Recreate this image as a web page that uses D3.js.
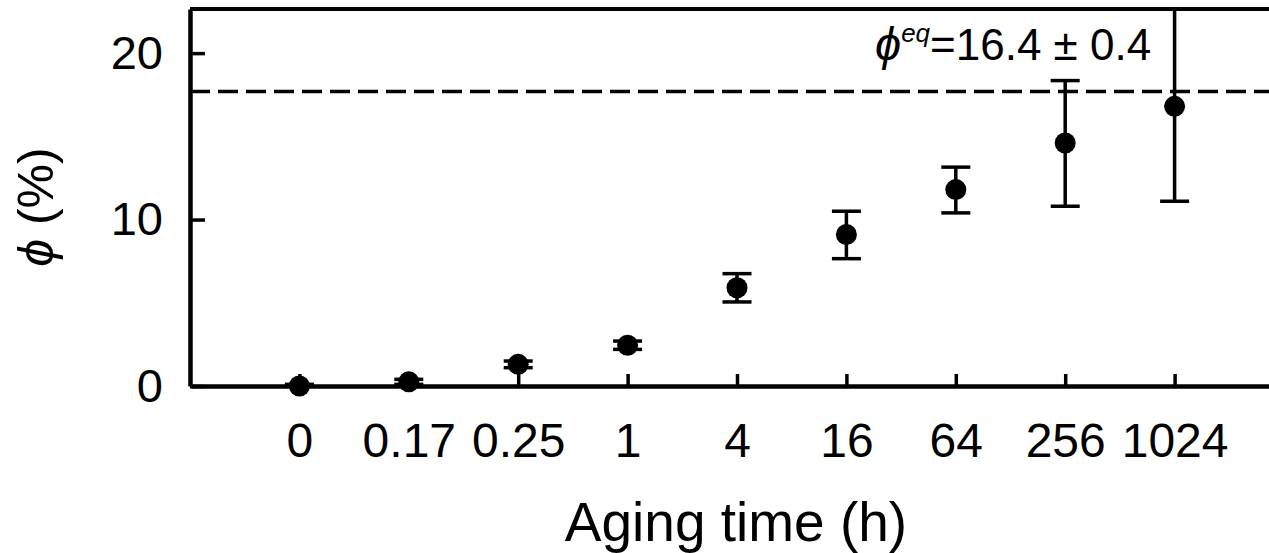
<!DOCTYPE html>
<html>
<head>
<meta charset="utf-8">
<script src="https://cdn.jsdelivr.net/npm/d3@7"></script>
<style>
  body { margin: 0; background: #fff; }
  svg { display: block; font-family: "Liberation Sans", Arial, "DejaVu Sans", sans-serif; }
</style>
</head>
<body>
<script>
// aging time categories (h) and measured phi (%)
var categories = ["0", "0.17", "0.25", "1", "4", "16", "64", "256", "1024"];
var phiMean = [0, 0.25, 1.3, 2.45, 5.9, 9.1, 11.8, 14.6, 16.8];
var errLow = [0.1, 0.15, 0.2, 0.25, 0.85, 1.45, 1.4, 3.8, 5.7];
var errHigh = [0.1, 0.15, 0.2, 0.25, 0.85, 1.4, 1.35, 3.75, 6.5];
var yTicks = [0, 10, 20];
var phiEq = 17.7;
var eqLabel = "=16.4 \u00b1 0.4";

var margin = {top: 9, right: 0, bottom: 167, left: 190},
  fullWidth = 1269,
  fullHeight = 553,
  width = 1094,
  height = fullHeight - margin.top - margin.bottom;

var x = d3.scalePoint().domain(categories).range([0, width]).padding(1);
var y = d3.scaleLinear().domain([0, 22.65]).range([height, 0]);

var svg = d3.select("body").append("svg")
  .attr("width", fullWidth)
  .attr("height", fullHeight);

var g = svg.append("g")
  .attr("transform", "translate(" + margin.left + "," + margin.top + ")");

g.append("defs").append("clipPath").attr("id", "plotclip")
  .append("rect").attr("x", 0).attr("y", 1).attr("width", width).attr("height", height);

var data = categories.map(function (c, i) {
  return {cat: c, v: phiMean[i], lo: phiMean[i] - errLow[i], hi: phiMean[i] + errHigh[i]};
});

// top frame line
g.append("line")
  .attr("x1", 0).attr("x2", width)
  .attr("y1", 0).attr("y2", 0)
  .attr("stroke", "#000").attr("stroke-width", 4);

// axes
var xAxis = d3.axisBottom(x).tickSizeInner(-12).tickSizeOuter(0).tickPadding(37);
var yAxis = d3.axisLeft(y).tickValues(yTicks).tickSizeInner(-15).tickSizeOuter(0).tickPadding(27);

var gx = g.append("g")
  .attr("transform", "translate(0," + height + ")")
  .call(xAxis);
gx.select(".domain").attr("stroke-width", 4.5);
gx.selectAll(".tick line").attr("stroke-width", 3.5);
gx.selectAll(".tick text").attr("font-size", 48).attr("fill", "#000")
  .attr("font-family", "Liberation Sans, Arial, sans-serif");

var gy = g.append("g").call(yAxis);
gy.select(".domain").attr("stroke-width", 4.5);
gy.selectAll(".tick line").attr("stroke-width", 3.5);
gy.selectAll(".tick text").attr("font-size", 47).attr("fill", "#000")
  .attr("font-family", "Liberation Sans, Arial, sans-serif");

// equilibrium dashed line
g.append("line")
  .attr("x1", 0).attr("x2", width)
  .attr("y1", y(phiEq)).attr("y2", y(phiEq))
  .attr("stroke", "#000").attr("stroke-width", 3.5)
  .attr("stroke-dasharray", "20,8");

var plot = g.append("g").attr("clip-path", "url(#plotclip)");

// error bars
var cap = 14.5;
var eb = plot.selectAll(".eb").data(data).enter().append("g").attr("class", "eb")
  .attr("stroke", "#000").attr("stroke-width", 3.5);
eb.append("line")
  .attr("x1", function (d) { return x(d.cat); })
  .attr("x2", function (d) { return x(d.cat); })
  .attr("y1", function (d) { return y(d.lo); })
  .attr("y2", function (d) { return y(d.hi); });
eb.append("line")
  .attr("x1", function (d) { return x(d.cat) - cap; })
  .attr("x2", function (d) { return x(d.cat) + cap; })
  .attr("y1", function (d) { return y(d.lo); })
  .attr("y2", function (d) { return y(d.lo); });
eb.append("line")
  .attr("x1", function (d) { return x(d.cat) - cap; })
  .attr("x2", function (d) { return x(d.cat) + cap; })
  .attr("y1", function (d) { return y(d.hi); })
  .attr("y2", function (d) { return y(d.hi); });

// points
g.selectAll("circle").data(data).enter().append("circle")
  .attr("cx", function (d) { return x(d.cat); })
  .attr("cy", function (d) { return y(d.v); })
  .attr("r", 10.5)
  .attr("fill", "#000");

// annotation
var ann = g.append("text")
  .attr("x", 875 - margin.left)
  .attr("y", 60 - margin.top)
  .attr("font-size", 44)
  .attr("fill", "#000");
ann.append("tspan").attr("font-style", "italic").attr("font-size", 47).text("\u03d5");
ann.append("tspan").attr("font-style", "italic").attr("font-size", 26)
  .attr("dy", -18).text("eq");
ann.append("tspan").attr("dy", 18).text(eqLabel);

// axis titles
svg.append("text")
  .attr("x", 736)
  .attr("y", 541)
  .attr("text-anchor", "middle")
  .attr("font-size", 55)
  .attr("fill", "#000")
  .text("Aging time (h)");

var yl = svg.append("text")
  .attr("transform", "translate(53,207) rotate(-90)")
  .attr("text-anchor", "middle")
  .attr("font-size", 50)
  .attr("fill", "#000");
yl.append("tspan").attr("font-style", "italic").text("\u03d5");
yl.append("tspan").text(" (%)");
</script>
</body>
</html>
